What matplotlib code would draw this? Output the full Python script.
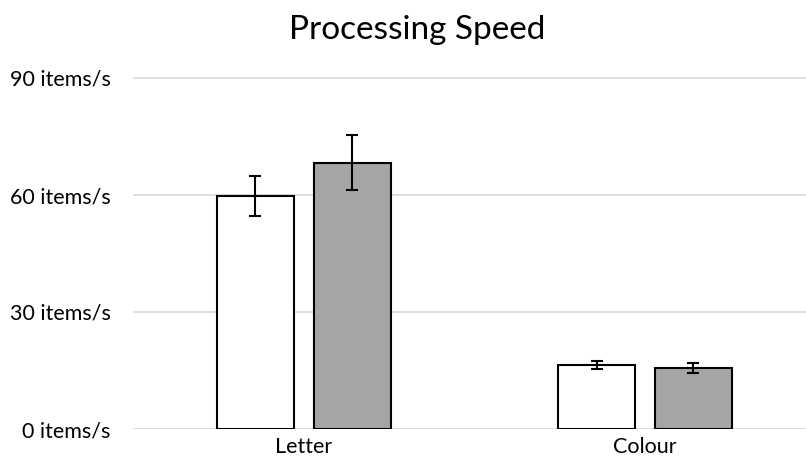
import numpy as np
import matplotlib
matplotlib.use('Agg')
import matplotlib.pyplot as plt

categories = ['Letter', 'Colour']
white_vals = [59.8, 16.4]
white_err = [5.2, 0.95]
grey_vals = [68.3, 15.6]
grey_err = [7.0, 1.2]
yticks = [0, 30, 60, 90]
ytick_labels = ['0 items/s', '30 items/s', '60 items/s', '90 items/s']

plt.rcParams['font.family'] = ['Lato', 'DejaVu Sans']

W, H = 806, 472
fig = plt.figure(figsize=[W / 100, H / 100], dpi=100)
# axes placed in pixel terms
ax = fig.add_axes([133 / W, (H - 429) / H, 1 - 133 / W, (429 - 74.1) / H])

x = np.arange(len(categories))
bw = 0.224
off = 0.142
ax.bar(x - off, white_vals, bw, color='white', edgecolor='black', linewidth=1.5,
       yerr=white_err, error_kw=dict(ecolor='black', elinewidth=1.5, capsize=4.3, capthick=1.5), zorder=3)
ax.bar(x + off, grey_vals, bw, color='#A5A5A5', edgecolor='black', linewidth=1.5,
       yerr=grey_err, error_kw=dict(ecolor='black', elinewidth=1.5, capsize=4.3, capthick=1.5), zorder=3)

ax.set_xlim(-0.501, 1.472)
ax.set_ylim(0, 91)
ax.set_yticks(yticks)
ax.set_yticklabels(ytick_labels, fontsize=15.5, color='black')
ax.set_xticks(x)
ax.set_xticklabels(categories, fontsize=15.5, color='black')
ax.tick_params(axis='y', length=0, pad=16)
ax.tick_params(axis='x', length=0, pad=6)
ax.yaxis.grid(True, color='#D9D9D9', linewidth=1.2, zorder=0)
ax.set_axisbelow(True)
for s in ax.spines.values():
    s.set_visible(False)

fig.text(417 / W, 1 - 30 / H, 'Processing Speed', ha='center', va='center', fontsize=24, color='black')

fig.savefig('out.png', dpi=100)
